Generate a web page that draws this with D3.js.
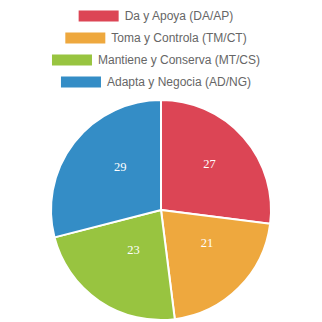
<!DOCTYPE html>
<html>
<head>
<meta charset="utf-8">
<script src="https://cdn.jsdelivr.net/npm/d3@7"></script>
<style>
    html, body { margin: 0; padding: 0; background: #fff; }
    #chart { width: 322px; height: 322px; }
</style>
</head>
<body>
<div id="chart"></div>
<script>
const categories = ['Da y Apoya (DA/AP)', 'Toma y Controla (TM/CT)', 'Mantiene y Conserva (MT/CS)', 'Adapta y Negocia (AD/NG)'];
const values = [27, 21, 23, 29];
const colors = ['#dc4555', '#eea83e', '#98c440', '#348dc6'];

const width = 322,
    height = 322,
    radius = 110,
    cx = 161,
    cy = 210;

const svg = d3.select('#chart').append('svg')
    .attr('width', width)
    .attr('height', height);

// legend, one item per row, centred (item width includes 10px trailing pad)
const legend = svg.append('g');
categories.forEach((name, i) => {
    const rowY = 16 + i * 22;
    const g = legend.append('g');
    const text = g.append('text')
        .attr('y', rowY)
        .attr('dy', '0.35em')
        .attr('font-family', 'Liberation Sans, Arial, sans-serif')
        .attr('font-size', 12)
        .attr('fill', '#666')
        .text(name);
    const tw = text.node().getComputedTextLength();
    const left = cx - (40 + 6 + tw + 10) / 2;
    g.insert('rect', 'text')
        .attr('x', left)
        .attr('y', rowY - 5.5)
        .attr('width', 40)
        .attr('height', 11)
        .attr('fill', colors[i]);
    text.attr('x', left + 46);
});

const pie = d3.pie().sort(null).value(d => d);
const arcs = pie(values);
const arc = d3.arc().innerRadius(0).outerRadius(radius);
const labelArc = d3.arc().innerRadius(0).outerRadius(116);

const g = svg.append('g').attr('transform', `translate(${cx},${cy})`);

g.selectAll('path')
    .data(arcs)
    .enter().append('path')
    .attr('d', arc)
    .attr('fill', (d, i) => colors[i])
    .attr('stroke', '#fff')
    .attr('stroke-width', 2);

// labels sit a little up and right of the centroid in the original
g.append('g')
    .attr('transform', 'translate(5,-8)')
    .selectAll('text')
    .data(arcs)
    .enter().append('text')
    .attr('transform', d => `translate(${labelArc.centroid(d)})`)
    .attr('text-anchor', 'middle')
    .attr('dy', '0.35em')
    .attr('font-family', 'Liberation Serif, Times New Roman, serif')
    .attr('font-size', 12.5)
    .attr('fill', '#fff')
    .text(d => d.data);
</script>
</body>
</html>
